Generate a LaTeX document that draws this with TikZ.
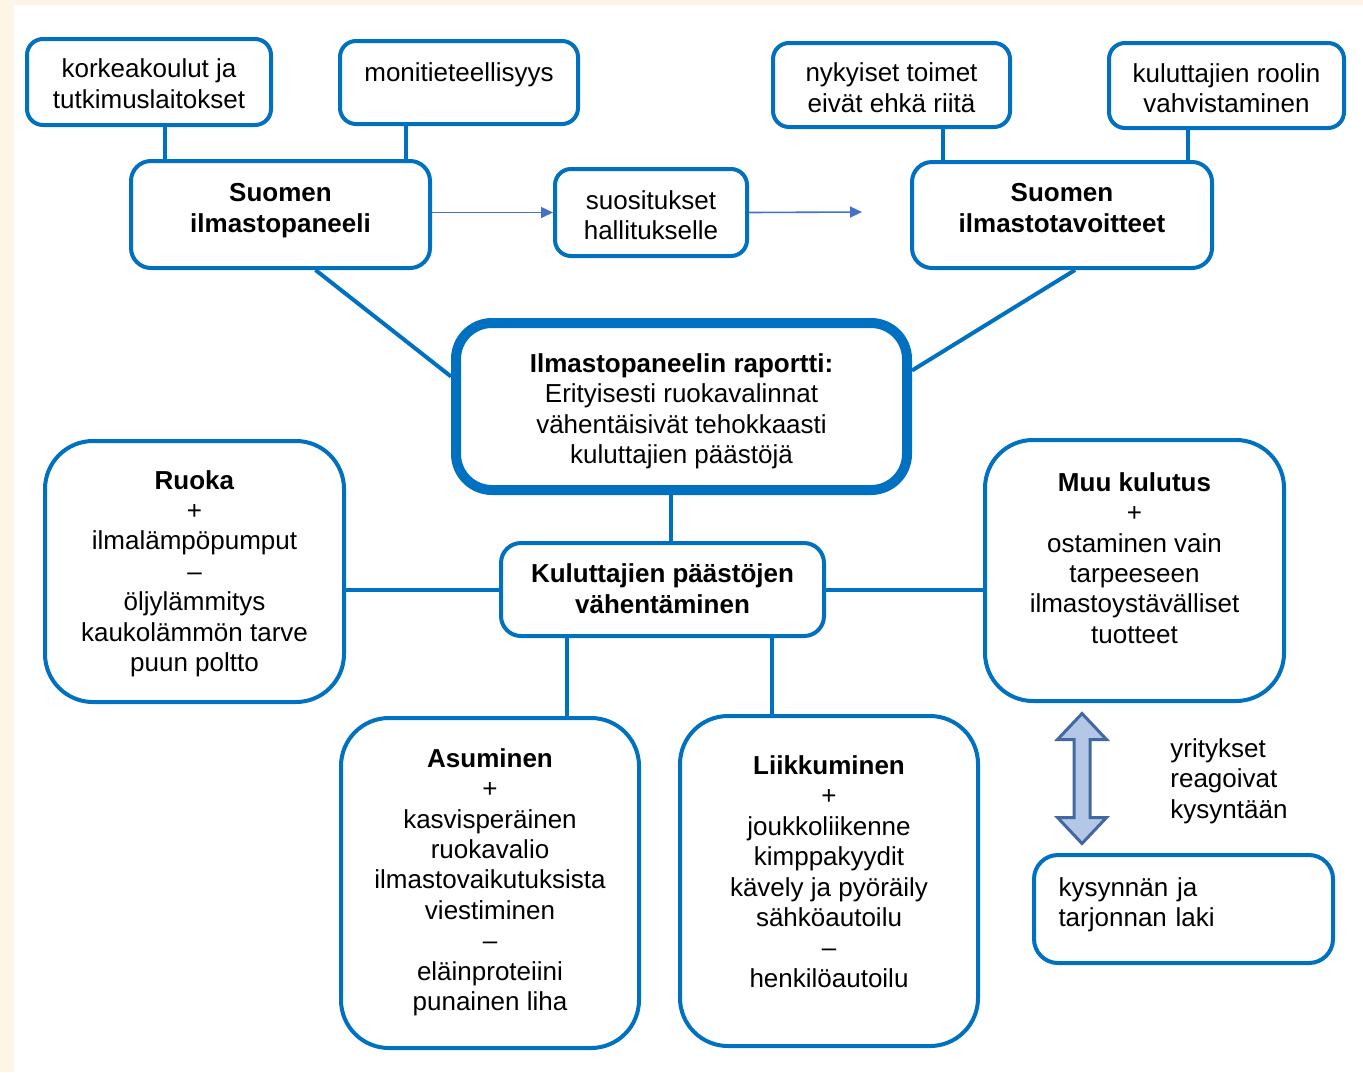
\documentclass[tikz,border=0pt]{standalone}
\usepackage{fontspec}
\setmainfont{Liberation Sans}
\usetikzlibrary{arrows.meta}

\definecolor{boxblue}{RGB}{0,112,192}
\definecolor{flowblue}{RGB}{68,114,196}
\definecolor{cream}{RGB}{253,246,230}
\definecolor{arrowfill}{RGB}{180,199,231}
\definecolor{arrowedge}{RGB}{65,105,160}

\tikzset{
  box/.style={draw=boxblue, line width=2pt, rounded corners=#1, fill=white,
    align=center, inner sep=0pt, font=\fontsize{13}{15.2}\selectfont},
  box/.default=8pt,
  link/.style={draw=boxblue, line width=2pt},
  flow/.style={draw=flowblue, line width=0.8pt, -{Triangle[length=6pt,width=5.5pt]}},
  demand/.style={draw=arrowedge, fill=arrowfill, line width=1.5pt, line join=miter},
  note/.style={align=left, inner sep=0pt, font=\fontsize{13}{15.2}\selectfont},
}

\begin{document}
\begin{tikzpicture}[x=0.5pt,y=-0.5pt]
  \useasboundingbox (0,0) rectangle (1363,1072);
  \fill[white] (0,0) rectangle (1363,1072);
  \fill[cream] (0,0) rectangle (14,1072);
  \fill[cream] (0,0) rectangle (1363,5);

  % top row
  \node[box, minimum width=122pt, minimum height=43pt, text height=26.5pt] (a1) at (149,82) {korkeakoulut ja\\tutkimuslaitokset};
  \node[box, minimum width=119pt, minimum height=41.5pt, text depth=10.2pt] (a2) at (459,82.5) {monitieteellisyys};
  \node[box, minimum width=118.5pt, minimum height=42pt, text height=27.5pt] (a3) at (891.5,85) {nykyiset toimet\\eivät ehkä riitä};
  \node[box, minimum width=117.5pt, minimum height=42.5pt, text height=27.5pt] (a4) at (1226.5,85.5) {kuluttajien roolin\\vahvistaminen};

  % second row
  \node[box=10pt, minimum width=149.5pt, minimum height=53.5pt, text depth=6.7pt] (b1) at (280.5,214.5) {\textbf{Suomen}\\\textbf{ilmastopaneeli}};
  \node[box, minimum width=96pt, minimum height=43.5pt, text height=27.5pt] (b2) at (651,212.5) {suositukset\\hallitukselle};
  \node[box=10pt, minimum width=150pt, minimum height=53pt, text depth=7pt] (b3) at (1062,215) {\textbf{Suomen}\\\textbf{ilmastotavoitteet}};
  \coordinate (goal) at (862,212);

  % report
  \node[box=18pt, line width=5pt, minimum width=225.5pt, minimum height=83.5pt, text height=57.2pt, text depth=0pt] (c) at (681.5,406.5)
    {\textbf{Ilmastopaneelin raportti:}\\Erityisesti ruokavalinnat\\vähentäisivät tehokkaasti\\kuluttajien päästöjä};
  \node[box=10pt, minimum width=161.5pt, minimum height=46.5pt, text depth=1pt] (d) at (662.5,589.5)
    {\textbf{Kuluttajien päästöjen}\\\textbf{vähentäminen}};

  % sectors
  \node[box=24pt, minimum width=149.5pt, minimum height=130.5pt, text depth=0.7pt] (e) at (194.5,571.5)
    {\textbf{Ruoka}\\+\\ilmalämpöpumput\\–\\öljylämmitys\\kaukolämmön tarve\\puun poltto};
  \node[box=24pt, minimum width=149.5pt, minimum height=130.5pt, text depth=12.6pt] (f) at (1134.5,570.5)
    {\textbf{Muu kulutus}\\+\\ostaminen vain\\tarpeeseen\\ilmastoystävälliset\\tuotteet};
  \node[box=24pt, minimum width=149pt, minimum height=165pt, text depth=3.6pt] (g) at (490,883)
    {\textbf{Asuminen}\\+\\kasvisperäinen\\ruokavalio\\ilmastovaikutuksista\\viestiminen\\–\\eläinproteiini\\punainen liha};
  \node[box=24pt, minimum width=149pt, minimum height=165pt, text depth=9.6pt] (h) at (829,881)
    {\textbf{Liikkuminen}\\+\\joukkoliikenne\\kimppakyydit\\kävely ja pyöräily\\sähköautoilu\\–\\henkilöautoilu};

  % market
  \node[box=12pt, minimum width=149.5pt, minimum height=54pt, text depth=22pt, text width=125pt, align=left] (i) at (1183.5,909)
    {kysynnän ja\\tarjonnan laki};
  \node[note, anchor=west] (react) at (1170,781) {yritykset\\reagoivat\\kysyntään};
  \coordinate (da) at (1082,778.5);
  \draw[demand] (da) ++(0,-65) -- ++(24.5,26) -- ++(-16.5,0) -- ++(0,78) -- ++(16.5,0) -- ++(-24.5,26)
    -- ++(-24.5,-26) -- ++(16.5,0) -- ++(0,-78) -- ++(-16.5,0) -- cycle;

  \draw[link] ([xshift=8pt]a1.south) -- ([xshift=8pt]a1.south |- b1.north);
  \draw[link] ([xshift=-26.5pt]a2.south) -- ([xshift=-26.5pt]a2.south |- b1.north);
  \draw[link] ([xshift=25.5pt]a3.south) -- ([xshift=25.5pt]a3.south |- b3.north);
  \draw[link] ([xshift=-19.5pt]a4.south) -- ([xshift=-19.5pt]a4.south |- b3.north);
  \draw[flow] (b1.east |- b2.west) -- (b2.west);
  \draw[flow] (b2.east) -- (goal);
  \draw[link] ([xshift=17.5pt]b1.south) -- ([yshift=15pt]c.west);
  \draw[link] ([xshift=6.5pt]b3.south) -- ([yshift=18pt]c.east);
  \draw[link] ([xshift=-5.5pt]c.south) -- ([xshift=-5.5pt]c.south |- d.north);
  \draw[link] (d.west -| e.east) -- (d.west);
  \draw[link] (d.east) -- (d.east -| f.west);
  \draw[link] ([xshift=-48pt]d.south) -- ([xshift=-48pt]d.south |- g.north);
  \draw[link] ([xshift=54.5pt]d.south) -- ([xshift=54.5pt]d.south |- h.north);
\end{tikzpicture}
\end{document}
